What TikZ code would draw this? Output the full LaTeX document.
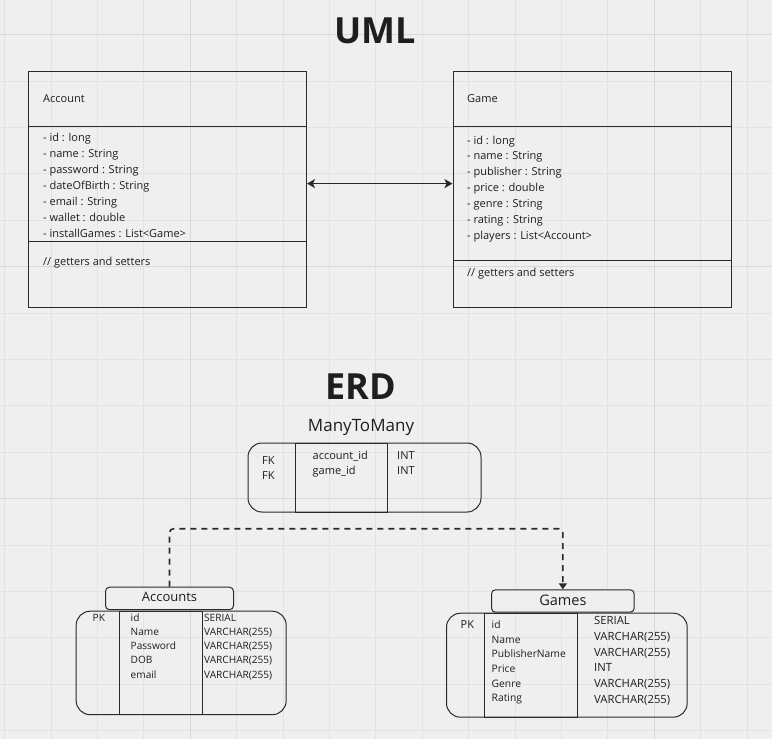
\documentclass[tikz,border=0pt]{standalone}
\usepackage{fontspec}
\setmainfont{Open Sans}
\usetikzlibrary{arrows.meta}
\definecolor{bg}{HTML}{EFEFEF}
\definecolor{gridc}{HTML}{E3E3E3}
\definecolor{gridd}{HTML}{D8D8D8}
\definecolor{ink}{HTML}{2A2A2A}
\definecolor{txt}{HTML}{1E1E1E}
\tikzset{
  box/.style={draw=ink, line width=1pt, inner sep=0pt, anchor=north west},
  rbox/.style={draw=ink, line width=1pt, inner sep=0pt, anchor=north west, rounded corners=14pt},
  lbl/.style={anchor=base west, inner sep=0pt, text=txt, font=\fontsize{11}{13}\selectfont},
  sml/.style={anchor=base west, inner sep=0pt, text=txt, font=\fontsize{10.1}{12}\selectfont},
  mid/.style={anchor=base west, inner sep=0pt, text=txt, font=\fontsize{11}{13}\selectfont},
  big/.style={inner sep=0pt, text=txt, font=\fontsize{36}{40}\selectfont\bfseries},
  hdr/.style={draw=ink, line width=1pt, rounded corners=4pt, inner sep=0pt, anchor=north west},
  divl/.style={draw=ink, line width=1pt},
}
\begin{document}
\begin{tikzpicture}[x=1pt,y=-1pt]
\fill[bg] (0,0) rectangle (772,739);
\useasboundingbox (0,0) rectangle (772,739);
% grid
\foreach \i in {0,...,16} {
  \pgfmathsetmacro{\gx}{4.5+46.4*\i}
  \draw[gridc, line width=0.8pt] (\gx,0) -- (\gx,739);
}
\foreach \i in {0,...,15} {
  \pgfmathsetmacro{\gy}{34.5+46.4*\i}
  \draw[gridc, line width=0.8pt] (0,\gy) -- (772,\gy);
}
\foreach \gx in {190.1,654.1} \draw[gridd, line width=0.8pt] (\gx,0) -- (\gx,739);
\foreach \gy in {34.5,266.5,498.5} \draw[gridd, line width=0.8pt] (0,\gy) -- (772,\gy);

% titles
\node[big] (uml) at (375,31) {UML};
\node[big] (erd) at (361,387) {ERD};

% Account class
\node[box, minimum width=278pt, minimum height=236pt] (account) at (28,71) {};
\draw[divl] (account.west |- 0,126) -- (account.east |- 0,126);
\draw[divl] (account.west |- 0,241.5) -- (account.east |- 0,241.5);
\node[lbl] (accname) at (43,102.3) {Account};
\foreach \t [count=\k from 0] in {- id : long, - name : String, - password : String, - dateOfBirth : String, - email : String, - wallet : double, - installGames : List<Game>} {
  \node[lbl] (acca\k) at (43,141+16*\k) {\t};
}
\node[lbl] (accm) at (43,265) {// getters and setters};

% Game class
\node[box, minimum width=278pt, minimum height=236pt] (game) at (452.5,71) {};
\draw[divl] (game.west |- 0,126) -- (game.east |- 0,126);
\draw[divl] (game.west |- 0,260) -- (game.east |- 0,260);
\node[lbl] (gamename) at (467,102.3) {Game};
\foreach \t [count=\k from 0] in {- id : long, - name : String, - publisher : String, - price : double, - genre : String, - rating : String, - players : List<Account>} {
  \node[lbl] (gamea\k) at (467,144+15.9*\k) {\t};
}
\node[lbl] (gamem) at (467,276.7) {// getters and setters};

% association
\draw[ink, line width=1.5pt, {Stealth[length=8pt,width=9pt,inset=2pt]}-{Stealth[length=8pt,width=9pt,inset=2pt]}] (account.east |- 0,183.6) -- (game.west |- 0,183.6);

% ManyToMany
\node[anchor=base, inner sep=0pt, text=txt, font=\fontsize{17}{20}\selectfont] (mtmt) at (361,431.7) {ManyToMany};
\node[rbox, minimum width=233pt, minimum height=69pt] (mtm) at (247.5,442.5) {};
\node[box, minimum width=92pt, minimum height=69pt] (mtmc) at (295,442.5) {};
\node[mid] (fk1) at (262,464.3) {FK};
\node[mid] (fk2) at (262,479.3) {FK};
\node[mid] (mc1) at (312.5,459) {account\_id};
\node[mid] (mc2) at (312.5,474.3) {game\_id};
\node[mid] (mt1) at (397,459.2) {INT};
\node[mid] (mt2) at (397,474.6) {INT};

% Accounts table
\node[rbox, minimum width=210pt, minimum height=103.5pt] (acct) at (75.7,610.7) {};
\node[box, minimum width=83pt, minimum height=103.5pt] (acctc) at (118.7,610.7) {};
\node[hdr, fill=bg, minimum width=128pt, minimum height=22.5pt] (acch) at (105,586.7) {};
\node[anchor=base, inner sep=0pt, text=txt, font=\fontsize{13}{16}\selectfont] (acchl) at (acch.center |- 0,601.7) {Accounts};
\node[sml] (apk) at (92.5,621.2) {PK};
\foreach \n/\ty [count=\k from 0] in {id/SERIAL, Name/VARCHAR(255), Password/VARCHAR(255), DOB/VARCHAR(255), email/VARCHAR(255)} {
  \node[sml] (accn\k) at (130.5,621.2+14.25*\k) {\n};
  \node[sml] (acct\k) at (204,621.2+14.25*\k) {\ty};
}

% Games table
\node[rbox, minimum width=240.7pt, minimum height=104pt] (gamt) at (446,612.7) {};
\node[box, minimum width=92.4pt, minimum height=104pt] (gamtc) at (484.3,612.7) {};
\node[hdr, fill=bg, minimum width=142.7pt, minimum height=22.4pt] (gamh) at (491,589.3) {};
\node[anchor=base, inner sep=0pt, text=txt, font=\fontsize{14.5}{17}\selectfont] (gamhl) at (gamh.center |- 0,605) {Games};
\node[mid] (gpk) at (460.5,628.3) {PK};
\foreach \n [count=\k from 0] in {id, Name, PublisherName, Price, Genre, Rating} {
  \node[sml, font=\fontsize{10.3}{12}\selectfont] (gamn\k) at (491.5,628.3+14.7*\k) {\n};
}
\foreach \ty [count=\k from 0] in {SERIAL, VARCHAR(255), VARCHAR(255), INT, VARCHAR(255), VARCHAR(255)} {
  \node[mid, font=\fontsize{11.3}{13}\selectfont] (gamt\k) at (594,624.5+15.8*\k) {\ty};
}

% dashed relation
\draw[ink, line width=1.6pt, dash pattern=on 6pt off 5pt, rounded corners=4pt, -{Triangle[length=6pt,width=8pt]}]
  (acch.north) -- ++(0,-58) -| (gamh.north);
\end{tikzpicture}
\end{document}
